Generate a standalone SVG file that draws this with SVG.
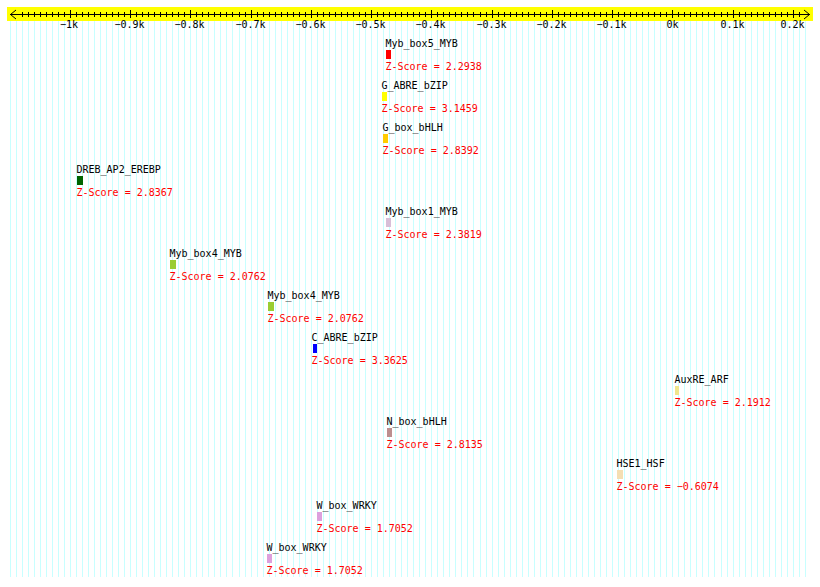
<svg xmlns="http://www.w3.org/2000/svg" width="820" height="587" viewBox="0 0 820 587">
<style>
text{font-family:"DejaVu Sans Mono","Liberation Mono",monospace;font-size:10px}
.lbl{fill:#000}
.z{fill:#ff0000}
.ax{text-anchor:middle;fill:#000}
.grid{stroke:#c8ffff;stroke-width:1;fill:none}
.tick{stroke:#000;stroke-width:1;fill:none}
</style>
<rect x="0" y="0" width="820" height="587" fill="#fff"/>
<g id="grid">
<path class="grid" d="M10.5 21V577M16.5 21V577M22.5 21V577M28.5 21V577M34.5 21V577M40.5 21V577M46.5 21V577M52.5 21V577M58.5 21V577M64.5 21V577
M70.5 21V577M76.5 21V577M82.5 21V577M88.5 21V577M94.5 21V577M100.5 21V577M106.5 21V577M112.5 21V577M118.5 21V577M124.5 21V577
M130.5 21V577M136.5 21V577M142.5 21V577M148.5 21V577M154.5 21V577M160.5 21V577M166.5 21V577M172.5 21V577M178.5 21V577M184.5 21V577
M190.5 21V577M196.5 21V577M202.5 21V577M208.5 21V577M214.5 21V577M220.5 21V577M226.5 21V577M232.5 21V577M239.5 21V577M245.5 21V577
M251.5 21V577M257.5 21V577M263.5 21V577M269.5 21V577M275.5 21V577M281.5 21V577M287.5 21V577M293.5 21V577M299.5 21V577M305.5 21V577
M311.5 21V577M317.5 21V577M323.5 21V577M329.5 21V577M335.5 21V577M341.5 21V577M347.5 21V577M353.5 21V577M359.5 21V577M365.5 21V577
M371.5 21V577M377.5 21V577M383.5 21V577M389.5 21V577M395.5 21V577M401.5 21V577M407.5 21V577M413.5 21V577M419.5 21V577M425.5 21V577
M431.5 21V577M437.5 21V577M443.5 21V577M449.5 21V577M455.5 21V577M461.5 21V577M467.5 21V577M473.5 21V577M480.5 21V577M486.5 21V577
M492.5 21V577M498.5 21V577M504.5 21V577M510.5 21V577M516.5 21V577M522.5 21V577M528.5 21V577M534.5 21V577M540.5 21V577M546.5 21V577
M552.5 21V577M558.5 21V577M564.5 21V577M570.5 21V577M576.5 21V577M582.5 21V577M588.5 21V577M594.5 21V577M600.5 21V577M606.5 21V577
M612.5 21V577M618.5 21V577M624.5 21V577M630.5 21V577M636.5 21V577M642.5 21V577M648.5 21V577M654.5 21V577M660.5 21V577M666.5 21V577
M672.5 21V577M678.5 21V577M684.5 21V577M690.5 21V577M696.5 21V577M702.5 21V577M708.5 21V577M714.5 21V577M721.5 21V577M727.5 21V577
M733.5 21V577M739.5 21V577M745.5 21V577M751.5 21V577M757.5 21V577M763.5 21V577M769.5 21V577M775.5 21V577M781.5 21V577M787.5 21V577
M793.5 21V577M799.5 21V577M805.5 21V577"/>
</g>
<g id="axis">
<rect x="7" y="7" width="806" height="14" fill="#ffff00"/>
<path class="tick" d="M10 14.5H810M16 10L10.5 14.5L16 19M804 10L809.5 14.5L804 19"/>
<path class="tick" d="M22.5 12V17M28.5 12V17M34.5 12V17M40.5 12V17M46.5 12V17M52.5 12V17M58.5 12V17M64.5 12V17
M76.5 12V17M82.5 12V17M88.5 12V17M94.5 12V17M100.5 12V17M106.5 12V17M112.5 12V17M118.5 12V17M124.5 12V17
M136.5 12V17M142.5 12V17M148.5 12V17M154.5 12V17M160.5 12V17M166.5 12V17M172.5 12V17M178.5 12V17M184.5 12V17
M196.5 12V17M202.5 12V17M208.5 12V17M214.5 12V17M220.5 12V17M226.5 12V17M232.5 12V17M239.5 12V17M245.5 12V17
M257.5 12V17M263.5 12V17M269.5 12V17M275.5 12V17M281.5 12V17M287.5 12V17M293.5 12V17M299.5 12V17M305.5 12V17
M317.5 12V17M323.5 12V17M329.5 12V17M335.5 12V17M341.5 12V17M347.5 12V17M353.5 12V17M359.5 12V17M365.5 12V17
M377.5 12V17M383.5 12V17M389.5 12V17M395.5 12V17M401.5 12V17M407.5 12V17M413.5 12V17M419.5 12V17M425.5 12V17
M437.5 12V17M443.5 12V17M449.5 12V17M455.5 12V17M461.5 12V17M467.5 12V17M473.5 12V17M480.5 12V17M486.5 12V17
M498.5 12V17M504.5 12V17M510.5 12V17M516.5 12V17M522.5 12V17M528.5 12V17M534.5 12V17M540.5 12V17M546.5 12V17
M558.5 12V17M564.5 12V17M570.5 12V17M576.5 12V17M582.5 12V17M588.5 12V17M594.5 12V17M600.5 12V17M606.5 12V17
M618.5 12V17M624.5 12V17M630.5 12V17M636.5 12V17M642.5 12V17M648.5 12V17M654.5 12V17M660.5 12V17M666.5 12V17
M678.5 12V17M684.5 12V17M690.5 12V17M696.5 12V17M702.5 12V17M708.5 12V17M714.5 12V17M721.5 12V17M727.5 12V17
M739.5 12V17M745.5 12V17M751.5 12V17M757.5 12V17M763.5 12V17M769.5 12V17M775.5 12V17M781.5 12V17M787.5 12V17
M799.5 12V17"/>
<path class="tick" d="M70.5 10V18M130.5 10V18M190.5 10V18M251.5 10V18M311.5 10V18M371.5 10V18M431.5 10V18M492.5 10V18M552.5 10V18M612.5 10V18M672.5 10V18M733.5 10V18M793.5 10V18"/>
<text class="ax" x="69" y="28">−1k</text>
<text class="ax" x="129.5" y="28">−0.9k</text>
<text class="ax" x="189.5" y="28">−0.8k</text>
<text class="ax" x="250.5" y="28">−0.7k</text>
<text class="ax" x="310.5" y="28">−0.6k</text>
<text class="ax" x="370.5" y="28">−0.5k</text>
<text class="ax" x="430.5" y="28">−0.4k</text>
<text class="ax" x="491.5" y="28">−0.3k</text>
<text class="ax" x="551.5" y="28">−0.2k</text>
<text class="ax" x="611.5" y="28">−0.1k</text>
<text class="ax" x="672.5" y="28">0k</text>
<text class="ax" x="732.5" y="28">0.1k</text>
<text class="ax" x="792.5" y="28">0.2k</text>
</g>
<g id="n1"><text class="lbl" x="385.5" y="47">Myb_box5_MYB</text><rect x="386" y="50" width="5" height="9" fill="#ff0000"/><text class="z" x="385.5" y="70">Z-Score = 2.2938</text></g>
<g id="n2"><text class="lbl" x="381.5" y="89">G_ABRE_bZIP</text><rect x="382" y="92" width="5" height="9" fill="#ffff00"/><text class="z" x="381.5" y="112">Z-Score = 3.1459</text></g>
<g id="n3"><text class="lbl" x="382.5" y="131">G_box_bHLH</text><rect x="383" y="134" width="5" height="9" fill="#ffcc00"/><text class="z" x="382.5" y="154">Z-Score = 2.8392</text></g>
<g id="n4"><text class="lbl" x="76.5" y="173">DREB_AP2_EREBP</text><rect x="77" y="176" width="6" height="9" fill="#006400"/><text class="z" x="76.5" y="196">Z-Score = 2.8367</text></g>
<g id="n5"><text class="lbl" x="385.5" y="215">Myb_box1_MYB</text><rect x="386" y="218" width="5" height="9" fill="#d8bfd8"/><text class="z" x="385.5" y="238">Z-Score = 2.3819</text></g>
<g id="n6"><text class="lbl" x="169.5" y="257">Myb_box4_MYB</text><rect x="170" y="260" width="6" height="9" fill="#9acd32"/><text class="z" x="169.5" y="280">Z-Score = 2.0762</text></g>
<g id="n7"><text class="lbl" x="267.5" y="299">Myb_box4_MYB</text><rect x="268" y="302" width="6" height="9" fill="#9acd32"/><text class="z" x="267.5" y="322">Z-Score = 2.0762</text></g>
<g id="n8"><text class="lbl" x="311.5" y="341">C_ABRE_bZIP</text><rect x="313" y="344" width="4" height="9" fill="#0000ff"/><text class="z" x="311.5" y="364">Z-Score = 3.3625</text></g>
<g id="n9"><text class="lbl" x="674.5" y="383">AuxRE_ARF</text><rect x="675" y="386" width="4" height="9" fill="#f0e68c"/><text class="z" x="674.5" y="406">Z-Score = 2.1912</text></g>
<g id="n10"><text class="lbl" x="386.5" y="425">N_box_bHLH</text><rect x="387" y="428" width="5" height="9" fill="#bc8f8f"/><text class="z" x="386.5" y="448">Z-Score = 2.8135</text></g>
<g id="n11"><text class="lbl" x="616.5" y="467">HSE1_HSF</text><rect x="617" y="470" width="6" height="9" fill="#f5deb3"/><text class="z" x="616.5" y="490">Z-Score = −0.6074</text></g>
<g id="n12"><text class="lbl" x="316.5" y="509">W_box_WRKY</text><rect x="317" y="512" width="5" height="9" fill="#dda0dd"/><text class="z" x="316.5" y="532">Z-Score = 1.7052</text></g>
<g id="n13"><text class="lbl" x="266.5" y="551">W_box_WRKY</text><rect x="267" y="554" width="5" height="9" fill="#dda0dd"/><text class="z" x="266.5" y="574">Z-Score = 1.7052</text></g>
</svg>
